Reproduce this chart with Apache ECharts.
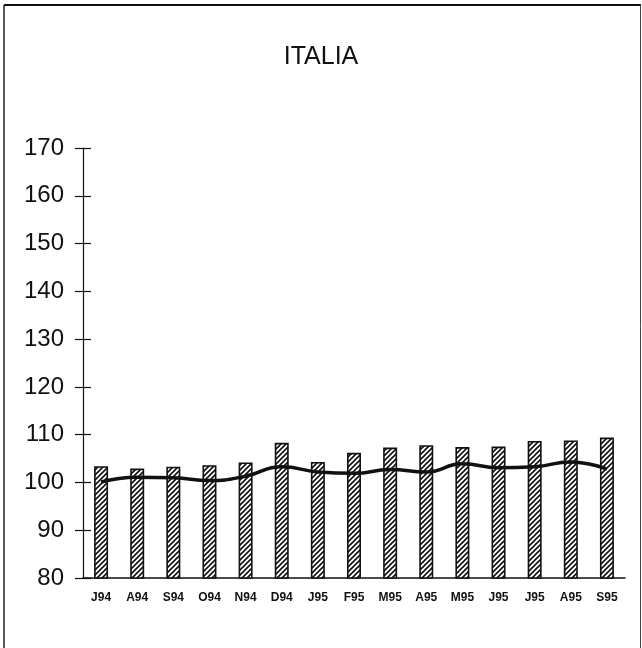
<!DOCTYPE html>
<html>
<head>
<meta charset="utf-8">
<script src="https://cdn.jsdelivr.net/npm/echarts@6/dist/echarts.min.js"></script>
<style>
  html, body { margin: 0; padding: 0; background: #fff; }
  #chart { width: 642px; height: 648px; }
</style>
</head>
<body>
<div id="chart"></div>
<script>
// data
const months = ['J94', 'A94', 'S94', 'O94', 'N94', 'D94', 'J95', 'F95', 'M95', 'A95', 'M95', 'J95', 'J95', 'A95', 'S95'];
const barValues = [103.4, 102.9, 103.3, 103.6, 104.2, 108.3, 104.3, 106.2, 107.3, 107.8, 107.4, 107.5, 108.7, 108.8, 109.4];
const lineValues = [100.1, 101.1, 101.0, 100.4, 101.3, 103.3, 102.2, 101.9, 102.7, 102.2, 103.9, 103.1, 103.3, 104.3, 102.8];
const yMin = 80, yMax = 170, yStep = 10;

// hatch pattern for the bars
function makeHatch() {
  const c = document.createElement('canvas');
  c.width = 5; c.height = 5;
  const g = c.getContext('2d');
  g.fillStyle = '#fff';
  g.fillRect(0, 0, 5, 5);
  g.strokeStyle = '#111';
  g.lineWidth = 1.6;
  g.beginPath();
  g.moveTo(-1, 6); g.lineTo(6, -1);
  g.moveTo(-1, 1); g.lineTo(1, -1);
  g.moveTo(4, 6); g.lineTo(6, 4);
  g.stroke();
  return c;
}

const chart = echarts.init(document.getElementById('chart'));
const fontFam = '"Liberation Sans", Arial, sans-serif';

chart.setOption({
  backgroundColor: '#fff',
  animation: false,
  title: {
    text: 'ITALIA',
    left: 'center',
    top: 40,
    textStyle: { fontFamily: fontFam, fontSize: 25, fontWeight: 'normal', color: '#111' }
  },
  grid: { left: 83, right: 17, top: 148, bottom: 70 },
  xAxis: {
    type: 'category',
    data: months,
    axisLine: { lineStyle: { color: '#111', width: 1.5 } },
    axisTick: { show: false },
    axisLabel: { fontFamily: fontFam, fontSize: 12, fontWeight: 'bold', color: '#111', margin: 14, interval: 0 }
  },
  yAxis: [
    {
      type: 'value', min: yMin, max: yMax, interval: yStep,
      axisLine: { show: true, lineStyle: { color: '#111', width: 1.2 } },
      axisTick: { show: true, length: 8, lineStyle: { color: '#111', width: 1.2 } },
      axisLabel: { fontFamily: fontFam, fontSize: 24, color: '#111', margin: 19 },
      splitLine: { show: false }
    },
    {
      type: 'value', min: yMin, max: yMax, interval: yStep, position: 'left',
      axisLine: { show: false },
      axisTick: { show: true, inside: true, length: 8, lineStyle: { color: '#111', width: 1.2 } },
      axisLabel: { show: false },
      splitLine: { show: false }
    }
  ],
  series: [
    {
      type: 'bar',
      data: barValues,
      barWidth: 14,
      itemStyle: {
        color: { image: makeHatch(), repeat: 'repeat' },
        borderColor: '#111',
        borderWidth: 1.6
      }
    },
    {
      type: 'line',
      data: lineValues,
      smooth: 0.5,
      symbol: 'none',
      lineStyle: { color: '#111', width: 3.5 }
    }
  ],
  graphic: [
    { type: 'line', shape: { x1: 4, y1: 5, x2: 4, y2: 648 }, style: { stroke: '#222', lineWidth: 1.5 } },
    { type: 'line', shape: { x1: 4, y1: 5, x2: 641, y2: 5 }, style: { stroke: '#111', lineWidth: 2 } },
    { type: 'line', shape: { x1: 640.5, y1: 5, x2: 640.5, y2: 648 }, style: { stroke: '#444', lineWidth: 1 } }
  ]
});
</script>
</body>
</html>
